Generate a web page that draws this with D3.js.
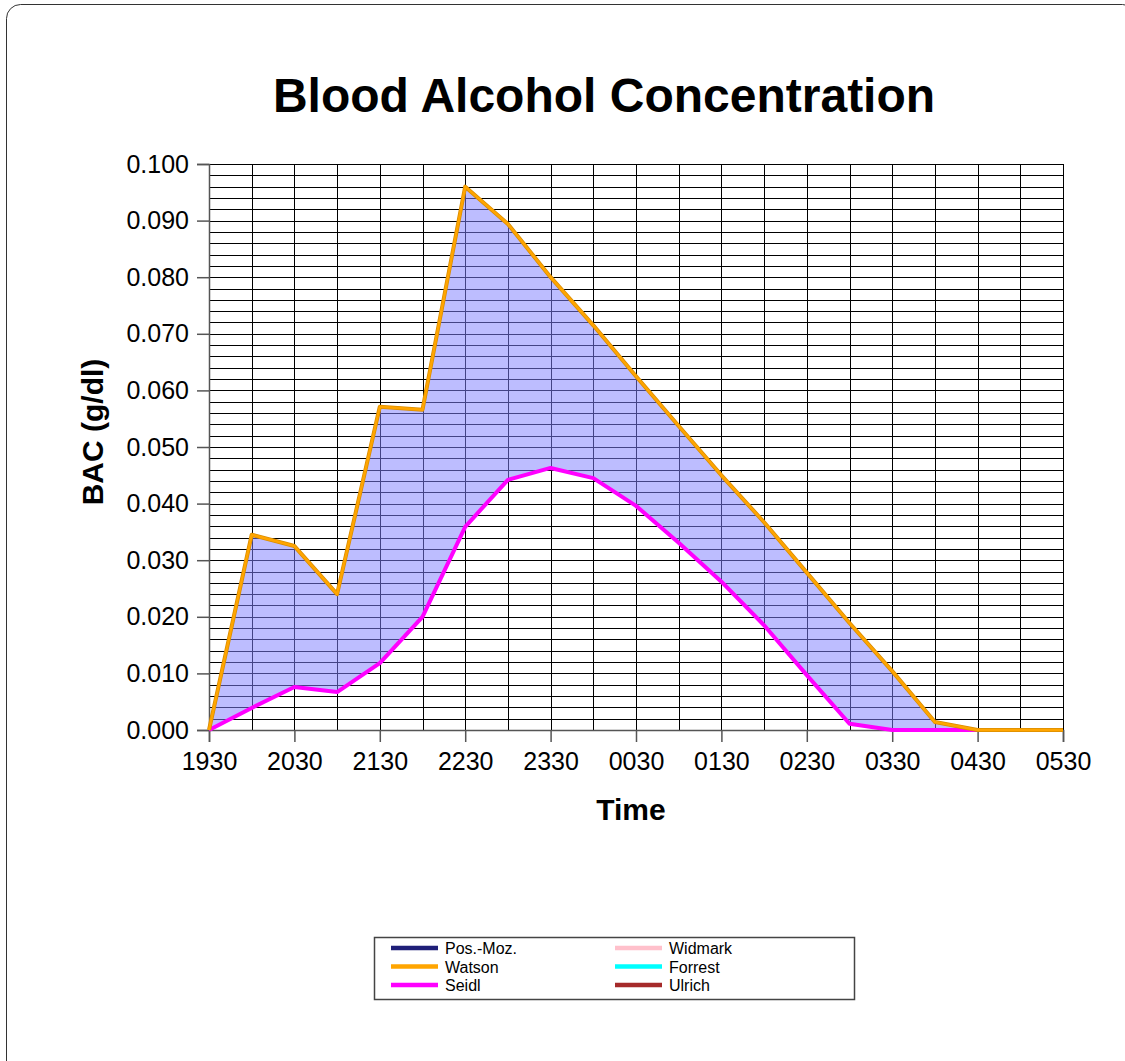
<!DOCTYPE html>
<html lang="en">
<head>
    <meta charset="UTF-8">
    <title>Blood Alcohol Concentration</title>
    <script src="https://d3js.org/d3.v7.min.js"></script>
    <style>
        body {
            margin: 0;
            font-family: "Liberation Sans", Arial, sans-serif;
            background: #fff;
        }
    </style>
</head>
<body>
    <div id="chart"></div>

    <script>
        // half-hour time slots
        const times = ["1930", "2000", "2030", "2100", "2130", "2200", "2230", "2300", "2330", "0000",
                       "0030", "0100", "0130", "0200", "0230", "0300", "0330", "0400", "0430", "0500", "0530"];
        const tickLabels = ["1930", "2030", "2130", "2230", "2330", "0030", "0130", "0230", "0330", "0430", "0530"];
        const watson = [0, 0.0345, 0.0325, 0.0240, 0.0571, 0.0566, 0.0960, 0.0894, 0.0800, 0.0715,
                        0.0625, 0.0537, 0.0450, 0.0367, 0.0278, 0.0189, 0.0104, 0.0014, 0, 0, 0];
        const seidl = [0, 0.0039, 0.0076, 0.0067, 0.0118, 0.0200, 0.0359, 0.0442, 0.0463, 0.0445,
                       0.0396, 0.0331, 0.0262, 0.0185, 0.0097, 0.0011, 0, 0, 0, 0, 0];
        const legendNames = ["Pos.-Moz.", "Watson", "Seidl", "Widmark", "Forrest", "Ulrich"];
        const legendColors = ["#1f1f78", "#ffa500", "#ff00ff", "#ffc0cb", "#00ffff", "#a52a2a"];

        const width = 1125;
        const height = 1061;
        const margin = { top: 164, right: 62, bottom: 331, left: 209 };

        const svg = d3.select("#chart")
            .append("svg")
            .attr("width", width)
            .attr("height", height);

        // outer frame
        svg.append("rect")
            .attr("x", 6.5).attr("y", 4.5)
            .attr("width", 1130).attr("height", 1080)
            .attr("rx", 14)
            .attr("fill", "none")
            .attr("stroke", "#333");

        const x = d3.scalePoint()
            .domain(times)
            .range([margin.left, width - margin.right]);

        const y = d3.scaleLinear()
            .domain([0, 0.1])
            .range([height - margin.bottom, margin.top]);

        // grid
        const grid = svg.append("g").attr("stroke", "#000").attr("stroke-width", 1);
        grid.selectAll(".hg")
            .data(d3.range(0, 51).map(i => i * 0.002))
            .enter().append("line")
            .attr("x1", margin.left).attr("x2", width - margin.right)
            .attr("y1", d => Math.round(y(d)) + 0.5).attr("y2", d => Math.round(y(d)) + 0.5);
        grid.selectAll(".vg")
            .data(times)
            .enter().append("line")
            .attr("x1", d => Math.round(x(d)) + 0.5).attr("x2", d => Math.round(x(d)) + 0.5)
            .attr("y1", y(0)).attr("y2", y(0.1));

        // band between Watson and Seidl
        const area = d3.area()
            .x((d, i) => x(times[i]))
            .y0((d, i) => y(seidl[i]))
            .y1(d => y(d));
        svg.append("path")
            .datum(watson)
            .attr("d", area)
            .attr("fill", "rgba(128,128,255,0.52)");

        // axes
        const yAxis = svg.append("g")
            .attr("transform", `translate(${margin.left},0)`)
            .call(d3.axisLeft(y).tickValues(d3.range(0, 11).map(i => i / 100))
                .tickFormat(d3.format(".3f")).tickSize(12).tickPadding(8));
        const xAxis = svg.append("g")
            .attr("transform", `translate(0,${y(0)})`)
            .call(d3.axisBottom(x).tickValues(tickLabels).tickSize(12).tickPadding(10));

        [yAxis, xAxis].forEach(g => {
            g.select(".domain").attr("stroke", "#555").attr("stroke-width", 1.5);
            g.selectAll(".tick line").attr("stroke", "#555").attr("stroke-width", 1.5);
            g.selectAll("text")
                .attr("font-family", "Liberation Sans, Arial, sans-serif")
                .attr("font-size", 25)
                .attr("fill", "#000");
        });

        // series lines
        const line = d3.line().x((d, i) => x(times[i])).y(d => y(d));
        svg.append("path").datum(seidl).attr("d", line)
            .attr("fill", "none").attr("stroke", "#ff00ff").attr("stroke-width", 4)
            .attr("stroke-linejoin", "round");
        svg.append("path").datum(watson).attr("d", line)
            .attr("fill", "none").attr("stroke", "#d98c00").attr("stroke-width", 4)
            .attr("stroke-linejoin", "round");
        svg.append("path").datum(watson).attr("d", line)
            .attr("fill", "none").attr("stroke", "#ffa500").attr("stroke-width", 2.5)
            .attr("stroke-linejoin", "round");

        // titles
        svg.append("text")
            .attr("x", 604).attr("y", 112)
            .attr("text-anchor", "middle")
            .attr("font-size", 48).attr("font-weight", "bold")
            .text("Blood Alcohol Concentration");

        svg.append("text")
            .attr("x", 631).attr("y", 820)
            .attr("text-anchor", "middle")
            .attr("font-size", 30).attr("font-weight", "bold")
            .text("Time");

        svg.append("text")
            .attr("transform", "translate(103,432) rotate(-90)")
            .attr("text-anchor", "middle")
            .attr("font-size", 30).attr("font-weight", "bold")
            .text("BAC (g/dl)");

        // legend
        const legend = svg.append("g");
        legend.append("rect")
            .attr("x", 374.5).attr("y", 937.5)
            .attr("width", 480).attr("height", 62)
            .attr("fill", "#fff").attr("stroke", "#444").attr("stroke-width", 1.5);

        legendNames.forEach((name, i) => {
            const col = Math.floor(i / 3);
            const row = i % 3;
            const lx = col === 0 ? 391 : 615;
            const ly = 948 + row * 18.5;
            legend.append("line")
                .attr("x1", lx).attr("x2", lx + 47)
                .attr("y1", ly).attr("y2", ly)
                .attr("stroke", legendColors[i]).attr("stroke-width", 4.5);
            legend.append("text")
                .attr("x", lx + 54).attr("y", ly + 6)
                .attr("font-size", 16)
                .text(name);
        });
    </script>
</body>
</html>
